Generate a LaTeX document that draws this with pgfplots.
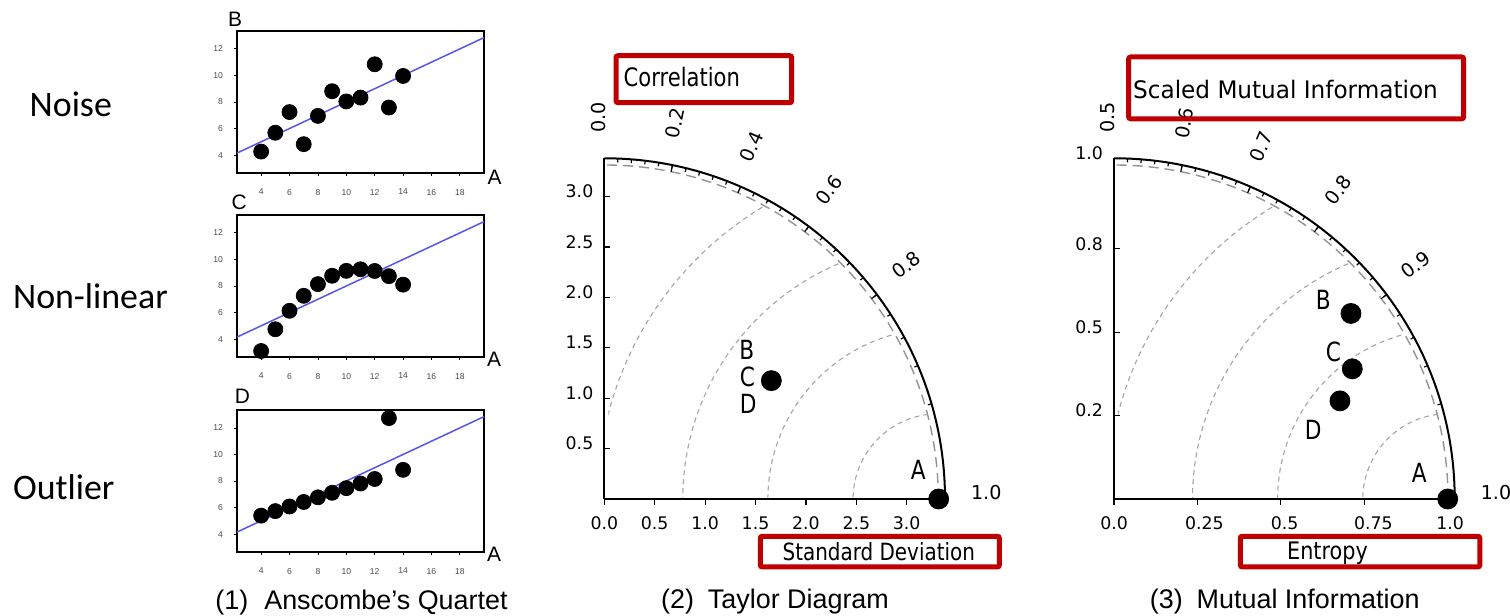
\documentclass[border=0pt]{standalone}
\usepackage{fontspec}
\usepackage{graphicx}
\usepackage{pgfplots}
\usepackage{pgfplotstable}
\pgfplotsset{compat=1.18}
\setmainfont{Liberation Sans}
\newfontfamily\dvs{DejaVu Sans}
\newfontfamily\carl{Carlito}
\definecolor{boxred}{RGB}{192,0,0}
\definecolor{fitblue}{RGB}{85,85,235}
\definecolor{arcgray}{RGB}{165,165,165}

\pgfplotstableread{
x y
10 8.04
8 6.95
13 7.58
9 8.81
11 8.33
14 9.96
6 7.24
4 4.26
12 10.84
7 4.82
5 5.68
}\dataB
\pgfplotstableread{
x y
10 9.14
8 8.14
13 8.74
9 8.77
11 9.26
14 8.10
6 6.13
4 3.10
12 9.13
7 7.26
5 4.74
}\dataC
\pgfplotstableread{
x y
10 7.46
8 6.77
13 12.74
9 7.11
11 7.81
14 8.84
6 6.08
4 5.39
12 8.15
7 6.42
5 5.73
}\dataD
% Taylor diagram points (std dev, as x/y of polar position)
\pgfplotstableread{
x y
1.657 1.174
3.317 0
}\dataTaylor
% Mutual information diagram points
\pgfplotstableread{
x y
0.710 0.556
0.714 0.390
0.677 0.294
1.000 0.000
}\dataMI

\pgfplotsset{
  anscombe/.style={
    anchor=south west, scale only axis, width=123.5bp, height=71bp,
    xmin=2.3, xmax=19.7, ymin=2.65, ymax=13.35,
    xtick={4,6,...,18}, ytick={4,6,...,12},
    tick align=outside, xtick pos=left, ytick pos=left,
    major tick length=1.5bp,
    tick style={black, line width=0.4bp},
    /pgf/number format/assume math mode=true,
    ticklabel style={font=\fontsize{4.3}{5}\selectfont, text=black!70},
    x tick label style={yshift=-3bp},
    y tick label style={xshift=-2bp},
    axis line style={line width=0.6bp},
    clip=false,
  },
  taylor/.style={
    anchor=south west, scale only axis, width=170.35bp, height=170.35bp,
    axis x line=bottom, axis y line=left,
    axis line style={-, line width=1bp},
    tick align=inside, major tick length=3bp,
    tick style={black, line width=0.6bp},
    xtick style={yshift=-3bp},
    ticklabel style={font=\dvs\fontsize{8.7}{10}\selectfont},
    x tick label style={yshift=-5.2bp},
    y tick label style={yshift=2.5bp, xshift=-2bp},
    clip=false,
  },
}

\newcommand\quarterdeco[2]{%
  \begin{scope}[shift={(#1,117)}]
    \begin{scope}
      \clip (4,0) rectangle (400,400);
      \clip (0,0) circle[radius=334];
      \foreach \r in {85.2,170.4,255.5,340.7}
        \draw[arcgray, dash pattern=on 2.5bp off 2bp, line width=0.55bp] (334,0) circle[radius=\r];
    \end{scope}
    \draw[gray!85, dash pattern=on 5bp off 3bp, line width=0.7bp] (334,0) arc[start angle=0,end angle=90,radius=334];
    \draw[line width=1bp] (340.7,0) arc[start angle=0,end angle=90,radius=340.7];
    \foreach \c in {0.04,0.08,...,0.97} {\pgfmathsetmacro\ang{acos(\c)}\draw[line width=0.6bp] (\ang:340.7) -- (\ang:337);}
    \foreach \c in {0,0.2,0.4,0.6,0.8} {\pgfmathsetmacro\ang{acos(\c)}\draw[line width=0.6bp] (\ang:340.7) -- (\ang:334);}
    \foreach \c/\l in {#2} {\pgfmathsetmacro\ang{acos(\c)}\node[rotate=\ang, font=\dvs\fontsize{9.6}{11}\selectfont, inner sep=0] at ({\ang+0.9}:382) {\l};}
  \end{scope}}

\begin{document}
\begin{tikzpicture}[x=0.5bp,y=0.5bp]
\useasboundingbox (0,0) rectangle (1510,616);

% ---------- row labels ----------
\node[anchor=base west, inner sep=0, font=\carl\fontsize{18}{21}\selectfont] at (29.3,499.3) {Noise};
\node[anchor=base west, inner sep=0, font=\carl\fontsize{18}{21}\selectfont] at (12.7,307.7) {Non-linear};
\node[anchor=base west, inner sep=0, font=\carl\fontsize{18}{21}\selectfont] at (12.7,116) {Outlier};

% ---------- Anscombe panels ----------
\begin{axis}[anscombe, at={(118.5bp,221.5bp)}]
  \addplot[fitblue, line width=0.75bp] coordinates {(2.3,4.15) (19.7,12.85)};
  \addplot[only marks, mark=*, mark size=3.75bp, black] table {\dataB};
\end{axis}
\begin{axis}[anscombe, at={(118.5bp,129.5bp)}]
  \addplot[fitblue, line width=0.75bp] coordinates {(2.3,4.15) (19.7,12.85)};
  \addplot[only marks, mark=*, mark size=3.75bp, black] table {\dataC};
\end{axis}
\begin{axis}[anscombe, at={(118.5bp,32bp)}]
  \addplot[fitblue, line width=0.75bp] coordinates {(2.3,4.15) (19.7,12.85)};
  \addplot[only marks, mark=*, mark size=3.75bp, black] table {\dataD};
\end{axis}
\begin{scope}[every node/.style={inner sep=0, font=\fontsize{10.5}{12}\selectfont}]
  \node at (235,596.5) {B};
  \node at (494.5,439) {A};
  \node at (239.3,414) {C};
  \node at (494,257) {A};
  \node at (242.5,220) {D};
  \node at (494,62) {A};
\end{scope}
\node[anchor=base, font=\fontsize{13.5}{16}\selectfont] at (361.5,6) {(1)\hspace{8bp}Anscombe’s Quartet};

% ---------- Taylor diagram ----------
\quarterdeco{604.3}{0/0.0,0.2/0.2,0.4/0.4,0.6/0.6,0.8/0.8,1/1.0}
\begin{axis}[taylor, at={(302.15bp,58.5bp)},
    xmin=0, xmax=3.38, ymin=0, ymax=3.38,
    xtick={0,0.5,1,1.5,2,2.5,3}, xticklabels={0.0,0.5,1.0,1.5,2.0,2.5,3.0},
    ytick={0.5,1,1.5,2,2.5,3}, yticklabels={0.5,1.0,1.5,2.0,2.5,3.0}]
  \addplot[only marks, mark=*, mark size=5bp, black] table {\dataTaylor};
\end{axis}
\begin{scope}[every node/.style={inner sep=0, font=\dvs\fontsize{13.25}{15}\selectfont}]
  \node at (746.7,266) {\scalebox{0.82}[1]{B}};
  \node at (747.3,238.7) {\scalebox{0.82}[1]{C}};
  \node at (748.3,212) {\scalebox{0.82}[1]{D}};
  \node at (918.3,146) {\scalebox{0.82}[1]{A}};
\end{scope}
\draw[boxred, line width=2.5bp, rounded corners=1bp] (616,513.3) rectangle (791.7,560.3);
\node[anchor=west, inner sep=0, font=\dvs\fontsize{12.75}{15}\selectfont] at (623.3,539.3) {\scalebox{0.83}[1]{Correlation}};
\draw[boxred, line width=2.5bp, rounded corners=1bp] (760.3,49) rectangle (999.3,79.7);
\node[inner sep=0, font=\dvs\fontsize{11.9}{14}\selectfont] at (878.8,64.3) {\scalebox{0.84}[1]{Standard Deviation}};
\node[anchor=base, font=\fontsize{13.5}{16}\selectfont] at (775,7.7) {(2)\hspace{7bp}Taylor Diagram};

% ---------- Mutual information diagram ----------
\quarterdeco{1114}{0/0.5,0.2/0.6,0.4/0.7,0.6/0.8,0.8/0.9,1/1.0}
\begin{axis}[taylor, at={(557bp,58.5bp)},
    xmin=0, xmax=1.021, ymin=0, ymax=1.021,
    xtick={0,0.25,0.5,0.75,1},
    xticklabels={0.0,{\hspace{7bp}0.25},{\hspace{3.7bp}0.5},{\hspace{9bp}0.75},{\hspace{2.3bp}1.0}},
    ytick={0.25,0.5,0.75,1.021}, yticklabels={0.2,0.5,0.8,1.0}]
  \addplot[only marks, mark=*, mark size=5bp, black] table {\dataMI};
\end{axis}
\begin{scope}[every node/.style={inner sep=0, font=\dvs\fontsize{13.25}{15}\selectfont}]
  \node at (1323.3,316) {\scalebox{0.82}[1]{B}};
  \node at (1333.3,264.3) {\scalebox{0.82}[1]{C}};
  \node at (1313.3,186) {\scalebox{0.82}[1]{D}};
  \node at (1419.3,142.7) {\scalebox{0.82}[1]{A}};
\end{scope}
\draw[boxred, line width=2.5bp, rounded corners=1bp] (1128.7,497.2) rectangle (1463.7,559);
\node[inner sep=0, font=\dvs\fontsize{12.1}{14}\selectfont] at (1285.5,526) {\scalebox{0.96}[1]{Scaled Mutual Information}};
\draw[boxred, line width=2.5bp, rounded corners=1bp] (1240.3,49) rectangle (1479.8,79.7);
\node[anchor=base, inner sep=0, font=\dvs\fontsize{12.1}{14}\selectfont] at (1327.5,56.8) {\scalebox{0.86}[1]{Entropy}};
\node[anchor=base, font=\fontsize{13.5}{16}\selectfont] at (1284.7,7.7) {(3)\hspace{7bp}Mutual Information};
\end{tikzpicture}
\end{document}
